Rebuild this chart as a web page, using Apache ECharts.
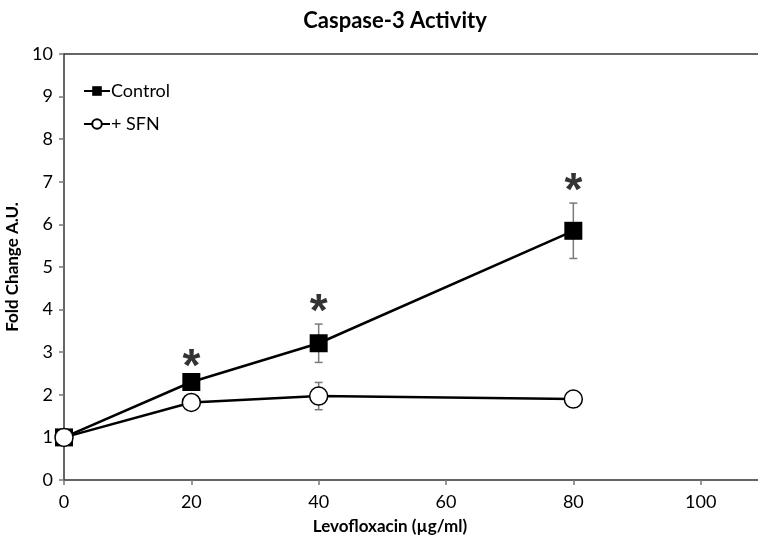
<!DOCTYPE html>
<html><head><meta charset="utf-8">
<script src="https://cdn.jsdelivr.net/npm/echarts@6/dist/echarts.min.js"></script>
<style>html,body{margin:0;padding:0;background:#fff}#c{width:758px;height:549px}</style>
</head><body><div id="c"></div>
<script>
const doses = [0, 20, 40, 80];
const controlMean = [1.0, 2.30, 3.21, 5.85];
const controlErr = [0.05, 0.1, 0.45, 0.65];
const sfnMean = [1.0, 1.82, 1.97, 1.90];
const sfnErr = [0.05, 0.05, 0.32, 0.05];
const sigDoses = [20, 40, 80];
const sigY = [2.86, 4.15, 6.98];
const xMaxLabel = 100;

const font = 'Lato, "Open Sans", sans-serif';
const chart = echarts.init(document.getElementById('c'));

function errData(means, errs) {
  return doses.map((d, i) => [d, means[i] - errs[i], means[i] + errs[i]]);
}
function errRender(params, api) {
  const x = api.value(0);
  const lo = api.coord([x, api.value(1)]);
  const hi = api.coord([x, api.value(2)]);
  const w = 4;
  const st = {stroke: '#7a7a7a', lineWidth: 1.5};
  return {type: 'group', children: [
    {type: 'line', shape: {x1: lo[0], y1: lo[1], x2: hi[0], y2: hi[1]}, style: st},
    {type: 'line', shape: {x1: lo[0]-w, y1: lo[1], x2: lo[0]+w, y2: lo[1]}, style: st},
    {type: 'line', shape: {x1: hi[0]-w, y1: hi[1], x2: hi[0]+w, y2: hi[1]}, style: st}
  ]};
}

chart.setOption({
  animation: false,
  title: {text: 'Caspase-3 Activity', left: 390, top: 5, textAlign: 'center',
    textStyle: {fontFamily: font, fontWeight: 'bold', fontSize: 22, color: '#000'}},
  legend: {
    data: ['Control', '+ SFN'], orient: 'vertical', left: 78, top: 77,
    itemWidth: 26, itemHeight: 12, itemGap: 15,
    textStyle: {fontFamily: font, fontSize: 18, color: '#000', padding: [0,0,0,-4]}
  },
  grid: {left: 64, top: 54, width: 764, height: 426, show: false,
    outerBoundsMode: 'none'},
  xAxis: [{
    type: 'value', min: 0, max: 120, interval: 20,
    name: 'Levofloxacin (\u00b5g/ml)', nameLocation: 'start', nameGap: -326,
    nameTextStyle: {fontFamily: font, fontWeight: 'bold', fontSize: 17, color: '#000',
      align: 'center', verticalAlign: 'top', padding: [38, 0, 0, 0]},
    axisLine: {lineStyle: {color: '#333', width: 1.5}},
    axisTick: {show: true, length: 5, lineStyle: {color: '#777', width: 1.5}},
    axisLabel: {fontFamily: font, fontSize: 18, color: '#000', margin: 13,
      formatter: v => (v > xMaxLabel ? '' : String(v))},
    splitLine: {show: false}
  }, {
    type: 'value', min: 0, max: 120, position: 'top',
    axisLine: {show: true, lineStyle: {color: '#333', width: 1.5}},
    axisTick: {show: false}, axisLabel: {show: false}, splitLine: {show: false}
  }],
  yAxis: {
    type: 'value', min: 0, max: 10, interval: 1,
    name: 'Fold Change A.U.', nameLocation: 'middle', nameGap: 34,
    nameTextStyle: {fontFamily: font, fontWeight: 'bold', fontSize: 17, color: '#000'},
    axisLine: {show: true, lineStyle: {color: '#333', width: 1.5}},
    axisTick: {show: true, length: 5, lineStyle: {color: '#777', width: 1.5}},
    axisLabel: {fontFamily: font, fontSize: 18, color: '#000', margin: 11},
    splitLine: {show: false}
  },
  series: [
    {type: 'custom', name: 'errC', renderItem: errRender, data: errData(controlMean, controlErr), z: 1, silent: true},
    {type: 'custom', name: 'errS', renderItem: errRender, data: errData(sfnMean, sfnErr), z: 1, silent: true},
    {type: 'line', name: 'Control', data: doses.map((d,i)=>[d, controlMean[i]]),
      symbol: 'rect', symbolSize: 18, lineStyle: {color: '#000', width: 2.5},
      itemStyle: {color: '#000', borderColor: '#000', borderWidth: 0}, z: 3},
    {type: 'line', name: '+ SFN', data: doses.map((d,i)=>[d, sfnMean[i]]),
      symbol: 'circle', symbolSize: 18, lineStyle: {color: '#000', width: 2.5},
      itemStyle: {color: '#fff', borderColor: '#000', borderWidth: 1.5}, z: 4},
    {type: 'scatter', name: 'sig', data: sigDoses.map((d,i)=>[d, sigY[i]]),
      symbolSize: 0, silent: true, z: 5,
      label: {show: true, position: 'inside', formatter: '*', fontFamily: '"Liberation Sans", Arial, sans-serif',
        fontWeight: 'bold', fontSize: 46, color: '#000', offset: [0, 10]}}
  ]
});
</script></body></html>
